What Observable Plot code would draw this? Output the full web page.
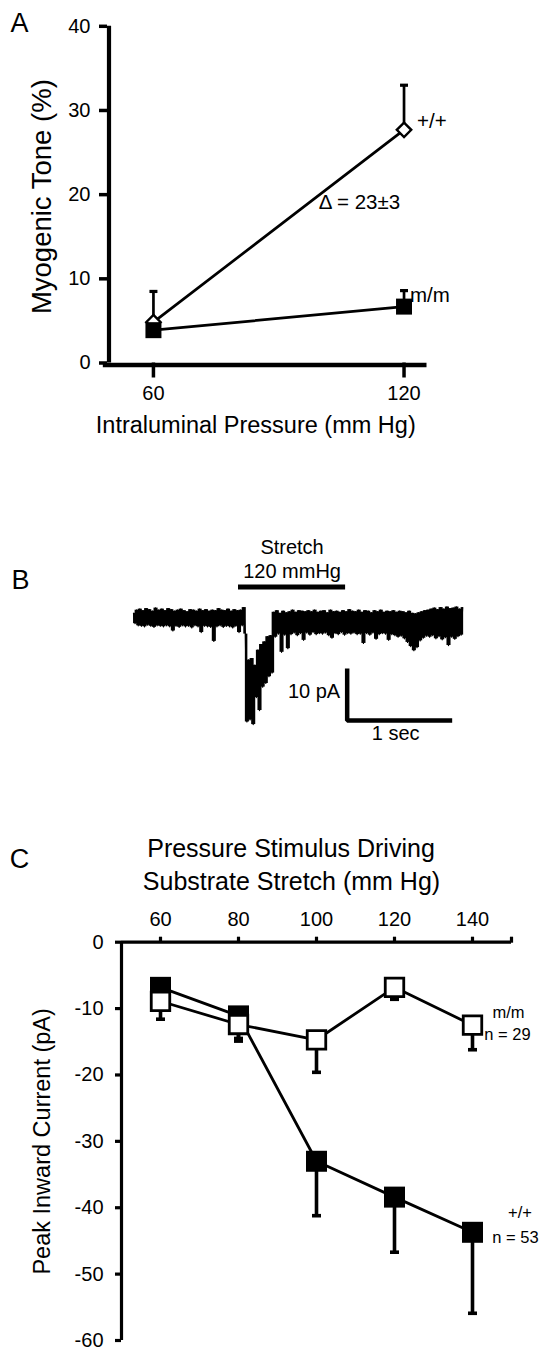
<!DOCTYPE html>
<html><head><meta charset="utf-8">
<script src="https://cdn.jsdelivr.net/npm/d3@7"></script>
<script src="https://cdn.jsdelivr.net/npm/@observablehq/plot@0.6"></script>
<style>
html,body{margin:0;padding:0;background:#fff;}
#fig{position:relative;width:544px;height:1352px;overflow:hidden;background:#fff;}
#fig svg{position:absolute;left:0;}
</style></head><body><div id="fig"></div>
<script>
// ---------- Panel A: myogenic tone ----------
const pressureA = [60, 120];
const toneWT = [4.85, 27.7];
const toneWTerr = [8.5, 33.0];
const toneMM = [3.9, 6.7];
const toneMMerr = [3.9, 8.6];
const ticksAy = [0, 10, 20, 30, 40];
const ticksAx = [60, 120];
const deltaLabel = "Δ = 23±3";

// ---------- Panel B: stretch-evoked current trace (pA), sampled every 15 ms ----------
const traceDt = 0.015;
const traceI = [
  1.0,-1.0,1.6,-1.4,1.8,-1.5,1.5,-1.6,1.9,-1.3,
  1.7,-1.5,1.4,-1.7,2.0,-1.4,1.6,-1.5,1.8,-1.6,
  1.5,-1.4,1.9,-1.6,1.7,-2.4,1.4,-1.5,1.6,-1.7,
  1.8,-1.4,1.5,-1.6,1.3,-1.5,1.7,-1.8,1.6,-1.4,
  1.4,-1.6,1.8,-2.7,1.5,-1.5,1.7,-1.6,1.4,-1.7,
  1.6,-4.4,1.5,-1.6,1.9,-1.4,1.6,-1.7,1.5,-1.5,
  1.8,-1.6,1.4,-1.8,1.7,-1.5,1.5,-2.7,1.6,-1.4,
  2.1,-3.0,-19.9,-8.0,-19.5,-7.7,-20.4,-9.0,-15.2,-6.1,
  -17.7,-5.0,-13.2,-4.5,-12.5,-3.5,-11.2,-3.3,-10.5,1.2,
  -3.6,1.5,-3.0,1.0,-6.5,1.4,-3.2,1.1,-5.8,1.3,
  -3.1,1.6,-2.8,1.2,-3.3,1.5,-2.9,1.4,-4.2,1.3,
  -2.8,1.5,-3.2,1.3,-2.7,1.6,-3.1,1.2,-2.9,1.4,
  -3.0,1.5,-2.8,1.1,-3.3,1.6,-3.8,1.3,-2.9,1.4,
  -3.1,1.2,-2.7,1.5,-3.2,1.3,-2.9,1.7,-3.0,1.4,
  -2.8,1.3,-3.1,1.6,-3.0,1.2,-4.8,1.5,-2.9,1.4,
  -3.2,1.1,-2.8,1.5,-4.0,1.3,-3.1,1.6,-2.9,1.2,
  -3.0,1.4,-4.2,1.3,-3.1,1.5,-3.3,1.2,-3.6,1.4,
  -3.4,1.3,-3.9,1.1,-4.6,1.4,-5.4,1.0,-6.2,0.9,
  -5.6,1.1,-4.3,1.3,-3.8,1.5,-3.4,1.6,-3.6,1.8,
  -3.3,2.0,-3.9,1.7,-3.5,2.1,-4.1,1.8,-3.7,2.2,
  -5.2,1.9,-3.6,2.0,-4.0,2.2,-3.5,1.8,-3.2,2.1
];
const stretchOn = 1.0, stretchOff = 2.02;   // s
const stretchLabel = ["Stretch", "120 mmHg"];
const scaleBarPA = 10, scaleBarSec = 1;

// ---------- Panel C: peak inward current ----------
const pressureC = [60, 80, 100, 120, 140];
const currentWT = [-6.8, -11.1, -33.0, -38.4, -43.7];
const currentWTerr = [-10.0, -14.5, -41.2, -46.7, -55.9];
const currentMM = [-8.9, -12.4, -14.7, -6.8, -12.5];
const currentMMerr = [-11.6, -14.9, -19.6, -8.6, -16.2];
const ticksCy = [0, -10, -20, -30, -40, -50, -60];
const ticksCx = [60, 80, 100, 120, 140, 150];

// ---------- layout / style ----------
const FONT = '"Liberation Sans", Arial, Helvetica, sans-serif';
const styleFor = size => ({fontFamily: FONT, fontSize: size + "px", background: "transparent", color: "black", overflow: "visible"});
const cap = {draw(ctx, size) { const w = Math.sqrt(size); ctx.moveTo(-w / 2, 0); ctx.lineTo(w / 2, 0); }};
const capR = w => Math.sqrt(w * w / Math.PI);
const sqR = s => Math.sqrt(s * s / Math.PI);
const mid = {textAnchor: "middle", lineAnchor: "middle"};

const fig = document.getElementById("fig");

// ===== Panel A =====
const A = pressureA.map((p, i) => ({p, wt: toneWT[i], wtErr: toneWTerr[i], mm: toneMM[i], mmErr: toneMMerr[i]}));
const aMid = {p: (pressureA[0] + pressureA[1]) / 2, v: (toneWT[0] + toneWT[1]) / 2};
const plotA = Plot.plot({
  width: 544, height: 450,
  marginLeft: 107, marginRight: 117.5, marginTop: 25.8, marginBottom: 87.5,
  style: styleFor(20),
  x: {domain: [49, 125.5]},
  y: {domain: [0, 40]},
  marks: [
    Plot.ruleX([49], {y1: 0, y2: 40, strokeWidth: 4.2, dx: 1.5}),
    Plot.ruleY([0], {x1: 48, x2: 125.5, strokeWidth: 4.6, dy: 2}),
    Plot.axisY({ticks: ticksAy, tickSize: 8, tickPadding: 9, fontSize: 20, strokeWidth: 3.5, tickFormat: d => String(d), label: null}),
    Plot.axisX({ticks: ticksAx, tickSize: 15, tickPadding: 8, fontSize: 20, strokeWidth: 3.5, tickFormat: d => String(d), label: null}),
    Plot.line(A, {x: "p", y: "wt", strokeWidth: 2.7}),
    Plot.line(A, {x: "p", y: "mm", strokeWidth: 2.7}),
    Plot.ruleX(A.filter(d => d.wtErr > d.wt), {x: "p", y1: "wt", y2: "wtErr", strokeWidth: 2.7}),
    Plot.dot(A.filter(d => d.wtErr > d.wt), {x: "p", y: "wtErr", symbol: cap, r: capR(8), stroke: "black", fill: "none", strokeWidth: 3.2}),
    Plot.ruleX(A.filter(d => d.mmErr > d.mm), {x: "p", y1: "mm", y2: "mmErr", strokeWidth: 2.7}),
    Plot.dot(A.filter(d => d.mmErr > d.mm), {x: "p", y: "mmErr", symbol: cap, r: capR(8), stroke: "black", fill: "none", strokeWidth: 3.2}),
    Plot.dot(A, {x: "p", y: "wt", symbol: "diamond2", r: 6.5, fill: "white", stroke: "black", strokeWidth: 2.4}),
    Plot.dot(A, {x: "p", y: "mm", symbol: "square", r: sqR(16), fill: "black"}),
    Plot.text([A[1]], {x: "p", y: "wt", text: () => "+/+", textAnchor: "start", dx: 13, dy: -8, fontSize: 20.5}),
    Plot.text([A[1]], {x: "p", y: "mm", text: () => "m/m", textAnchor: "start", dx: 6, dy: -11, fontSize: 20.5}),
    Plot.text([aMid], {x: "p", y: "v", text: () => deltaLabel, textAnchor: "start", dx: 40, dy: -23.6, fontSize: 20.5}),
    Plot.text(["Intraluminal Pressure (mm Hg)"], {...mid, frameAnchor: "bottom", dx: -11.5, dy: 62.5, fontSize: 23.5}),
    Plot.text(["Myogenic Tone (%)"], {...mid, frameAnchor: "left", dx: -65, dy: 2, rotate: -90, fontSize: 27.5}),
    Plot.text(["A"], {...mid, frameAnchor: "top-left", dx: -88, dy: -2.8, fontSize: 27})
  ]
});
plotA.style.top = "0px";
fig.appendChild(plotA);

// ===== Panel B =====
const T = traceI.map((v, i) => ({t: i * traceDt, v}));
const stretchLevel = 6.06;
const sb = {t: 2.035, v: -19.6};
const plotB = Plot.plot({
  width: 544, height: 260,
  marginLeft: 133, marginRight: 80.25, marginTop: 56.4, marginBottom: 47.6,
  style: styleFor(20),
  x: {domain: [0, 3.15], axis: null},
  y: {domain: [-22, 8], axis: null},
  marks: [
    Plot.ruleX(d3.range(T.length - 1), {x: i => (T[i].t + T[i + 1].t) / 2, y1: i => T[i].v, y2: i => T[i + 1].v, strokeWidth: 2.5}),
    Plot.line(T, {x: "t", y: "v", strokeWidth: 1.2}),
    Plot.ruleY([stretchLevel], {x1: stretchOn, x2: stretchOff, strokeWidth: 5}),
    Plot.text([stretchLabel[1]], {...mid, x: (stretchOn + stretchOff) / 2, y: stretchLevel, dy: -15, fontSize: 20}),
    Plot.text([stretchLabel[0]], {...mid, x: (stretchOn + stretchOff) / 2, y: stretchLevel, dy: -39, fontSize: 20}),
    Plot.line([{t: sb.t, v: sb.v + scaleBarPA}, {t: sb.t, v: sb.v}, {t: sb.t + scaleBarSec, v: sb.v}],
      {x: "t", y: "v", strokeWidth: 4.5, strokeLinejoin: "miter", strokeLinecap: "butt", curve: "linear"}),
    Plot.text([`${scaleBarPA} pA`], {x: sb.t, y: sb.v + scaleBarPA / 2, textAnchor: "end", lineAnchor: "middle", dx: -7, dy: -3, fontSize: 20}),
    Plot.text([`${scaleBarSec} sec`], {...mid, x: sb.t + scaleBarSec / 2, y: sb.v, dx: -4, dy: 13, fontSize: 20}),
    Plot.text(["B"], {...mid, frameAnchor: "top-left", dx: -113, dy: 3.6, fontSize: 27})
  ]
});
plotB.style.top = "520px";
fig.appendChild(plotB);

// ===== Panel C =====
const C = pressureC.map((p, i) => ({p, wt: currentWT[i], wtErr: currentWTerr[i], mm: currentMM[i], mmErr: currentMMerr[i]}));
const lastC = C[C.length - 1];
const plotC = Plot.plot({
  width: 544, height: 552,
  marginLeft: 121, marginRight: 33, marginTop: 141.7, marginBottom: 12,
  style: styleFor(20),
  x: {domain: [50, 150]},
  y: {domain: [-60, 0]},
  marks: [
    Plot.ruleX([50], {y1: -60, y2: 0, strokeWidth: 3.2}),
    Plot.ruleY([0], {x1: 50, x2: 150, strokeWidth: 3.2}),
    Plot.axisY({ticks: ticksCy, tickSize: 6, tickPadding: 12, fontSize: 20, strokeWidth: 3.2, tickFormat: d => String(d), label: null}),
    Plot.axisX({anchor: "top", ticks: ticksCx, tickSize: 6, tickPadding: 10, fontSize: 20, strokeWidth: 3.2, tickFormat: d => (pressureC.includes(d) ? String(d) : ""), label: null}),
    // +/+ series
    Plot.line(C, {x: "p", y: "wt", strokeWidth: 2.8}),
    Plot.ruleX(C, {x: "p", y1: "wt", y2: "wtErr", strokeWidth: 3.6}),
    Plot.dot(C, {x: "p", y: "wtErr", symbol: cap, r: capR(9), stroke: "black", fill: "none", strokeWidth: 3.6}),
    Plot.dot(C, {x: "p", y: "wt", symbol: "square", r: sqR(21), fill: "black"}),
    // m/m series
    Plot.line(C, {x: "p", y: "mm", strokeWidth: 2.8}),
    Plot.ruleX(C, {x: "p", y1: "mm", y2: "mmErr", strokeWidth: 3.6}),
    Plot.dot(C, {x: "p", y: "mmErr", symbol: cap, r: capR(9), stroke: "black", fill: "none", strokeWidth: 3.6}),
    Plot.dot(C, {x: "p", y: "mm", symbol: "square", r: sqR(18.5), fill: "white", stroke: "black", strokeWidth: 2.8}),
    // labels
    Plot.text([lastC], {...mid, x: "p", y: "mm", text: () => "m/m", dx: 36, dy: -12, fontSize: 16.5}),
    Plot.text([lastC], {...mid, x: "p", y: "mm", text: () => "n = 29", dx: 35, dy: 9.5, fontSize: 16.5}),
    Plot.text([lastC], {...mid, x: "p", y: "wt", text: () => "+/+", dx: 47.5, dy: -19.7, fontSize: 16.5}),
    Plot.text([lastC], {...mid, x: "p", y: "wt", text: () => "n = 53", dx: 43, dy: 5.3, fontSize: 16.5}),
    Plot.text(["Pressure Stimulus Driving"], {...mid, frameAnchor: "top", dx: -25.5, dy: -93.4, fontSize: 25}),
    Plot.text(["Substrate Stretch (mm Hg)"], {...mid, frameAnchor: "top", dx: -25, dy: -60, fontSize: 25}),
    Plot.text(["Peak Inward Current (pA)"], {...mid, frameAnchor: "left", dx: -79, rotate: -90, fontSize: 23.5}),
    Plot.text(["C"], {...mid, frameAnchor: "top-left", dx: -102, dy: -82.7, fontSize: 27})
  ]
});
plotC.style.top = "800px";
fig.appendChild(plotC);
</script></body></html>
